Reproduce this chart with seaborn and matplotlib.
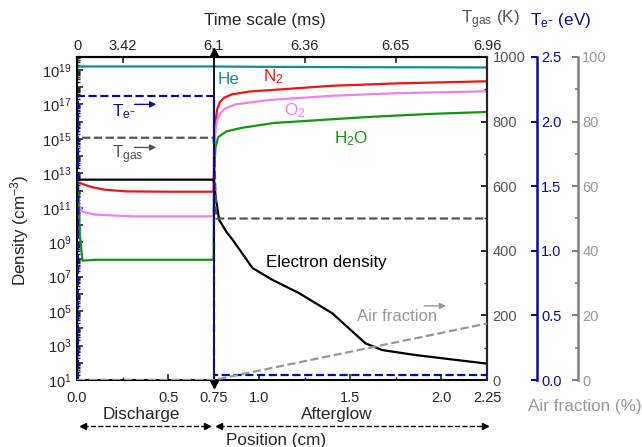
import numpy as np
import matplotlib
matplotlib.use("Agg")
import matplotlib.pyplot as plt
import matplotlib.ticker as mticker
import seaborn as sns

# ---- data (position in cm, log10 density in cm-3) ----
he_pos = [0.0, 0.75, 1.0, 1.5, 2.0, 2.25]
he_log = [19.2, 19.2, 19.18, 19.16, 19.15, 19.14]

n2_pos = [0.005, 0.03, 0.08, 0.15, 0.27, 0.5, 0.745, 0.75, 0.752, 0.756, 0.762, 0.77, 0.785, 0.81, 0.85, 0.95, 1.05, 1.4, 1.76, 2.25]
n2_log = [12.47, 12.38, 12.2, 12.05, 11.95, 11.93, 11.93, 11.93, 14.0, 15.3, 16.2, 16.75, 17.15, 17.4, 17.58, 17.75, 17.82, 18.08, 18.22, 18.34]

o2_pos = [0.005, 0.03, 0.1, 0.3, 0.5, 0.745, 0.75, 0.752, 0.755, 0.76, 0.77, 0.785, 0.81, 0.87, 1.05, 1.4, 1.76, 2.25]
o2_log = [11.3, 10.77, 10.6, 10.5, 10.5, 10.5, 10.5, 13.0, 14.6, 15.5, 16.1, 16.45, 16.75, 17.0, 17.25, 17.5, 17.65, 17.76]

h2o_pos = [0.005, 0.015, 0.03, 0.1, 0.5, 0.745, 0.75, 0.752, 0.755, 0.76, 0.775, 0.82, 0.9, 1.08, 1.6, 1.95, 2.25]
h2o_log = [12.5, 9.5, 7.93, 7.98, 7.98, 7.98, 7.98, 11.5, 13.6, 14.5, 15.1, 15.43, 15.63, 15.92, 16.27, 16.45, 16.56]

ne_pos = [0.0, 0.75, 0.755, 0.763, 0.78, 0.82, 0.854, 0.91, 0.963, 1.073, 1.219, 1.40, 1.583, 1.674, 1.856, 2.25]
ne_log = [12.63, 12.63, 12.2, 11.47, 10.3, 9.6, 9.14, 8.3, 7.5, 6.81, 6.04, 4.88, 3.13, 2.74, 2.45, 1.95]

tgas_pos = [0.0, 0.0, 0.75, 0.765, 2.25]
tgas_k = [0, 750, 750, 500, 500]

te_pos = [0.003, 0.003, 0.752, 0.752, 2.25]
te_ev = [0.0, 2.2, 2.2, 0.04, 0.04]

air_pos = [0.0, 0.75, 2.25]
air_pct = [0.0, 0.0, 17.5]

bottom_ticks = [0, 0.5, 0.75, 1.0, 1.5, 2.0, 2.25]
bottom_labels = ["0.0", "0.5", "0.75", "1.0", "1.5", "2.0", "2.25"]
top_ticks = [0, 0.25, 0.75, 1.25, 1.75, 2.25]
top_labels = ["0", "3.42", "6.1", "6.36", "6.65", "6.96"]

# colours
c_he = "#0f8f8f"
c_n2 = "#f01414"
c_o2 = "#f080f0"
c_h2o = "#139613"
c_tgas = "#555555"
c_te = "#0a0aa5"
c_air = "#999999"

sns.set_style("ticks")
plt.rcParams['font.family'] = ['Liberation Sans', 'DejaVu Sans']
plt.rcParams['mathtext.fontset'] = 'custom'
plt.rcParams['mathtext.rm'] = 'Liberation Sans'
plt.rcParams['mathtext.it'] = 'Liberation Sans:italic'
plt.rcParams['mathtext.bf'] = 'Liberation Sans:bold'

W, H = 642, 447
fig = plt.figure(figsize=(W / 100, H / 100), dpi=100)
ax = fig.add_axes([77 / W, 1 - 380 / H, 410 / W, 323 / H])
ax.set_yscale("log")

lw = 1.6
tfs = 10.5   # tick labels
fs = 12.3    # text labels

def line(a, x, y, color, ls="-"):
    sns.lineplot(x=x, y=y, ax=a, color=color, lw=lw, linestyle=ls,
                 estimator=None, sort=False, legend=False)

line(ax, he_pos, 10 ** np.array(he_log), c_he)
line(ax, n2_pos, 10 ** np.array(n2_log), c_n2)
line(ax, o2_pos, 10 ** np.array(o2_log), c_o2)
line(ax, h2o_pos, 10 ** np.array(h2o_log), c_h2o)
line(ax, ne_pos, 10 ** np.array(ne_log), "black")

ax.set_xlim(0, 2.25)
ax.set_ylim(10, 10 ** 19.75)
ax.set_xlabel("")
ax.set_ylabel("")

ax.yaxis.set_major_locator(mticker.FixedLocator([10.0 ** k for k in range(1, 20)]))
ax.yaxis.set_major_formatter(mticker.FuncFormatter(
    lambda v, p: "$10^{%d}$" % round(np.log10(v)) if round(np.log10(v)) % 2 == 1 else ""))
ax.yaxis.set_minor_locator(mticker.LogLocator(base=10, subs=np.arange(2, 10), numticks=200))
ax.yaxis.set_minor_formatter(mticker.NullFormatter())
ax.set_xticks(bottom_ticks, labels=bottom_labels)
ax.set_xticks([0.25, 1.25, 1.75], minor=True)
ax.tick_params(axis="both", which="major", direction="in", length=4, width=1.2, labelsize=tfs)
ax.tick_params(axis="both", which="minor", direction="in", length=2.5, width=1.0)
ax.tick_params(axis="y", which="major", pad=4)
ax.tick_params(axis="x", which="major", pad=8)
for s in ax.spines.values():
    s.set_linewidth(1.5)
    s.set_color("black")

# top axis: time scale
sec = ax.secondary_xaxis("top")
sec.set_xticks(top_ticks, labels=top_labels)
sec.tick_params(direction="in", length=4, width=1.2, labelsize=tfs, pad=3)
sec.spines["top"].set_linewidth(1.5)

# T_gas axis
ax_tg = ax.twinx()
line(ax_tg, tgas_pos, tgas_k, c_tgas, "--")
ax_tg.set_ylim(0, 1000)
ax_tg.set_yticks(range(0, 1001, 200))
ax_tg.set_yticks(range(100, 1000, 200), minor=True)
ax_tg.tick_params(which="major", direction="in", length=4, width=1.2, labelsize=tfs,
                  labelcolor=c_tgas, color="black", pad=4)
ax_tg.tick_params(which="minor", direction="in", length=2.5, width=1.0)
ax_tg.set_ylabel("")
for k in ["left", "top", "bottom"]:
    ax_tg.spines[k].set_visible(False)
ax_tg.spines["right"].set_linewidth(1.5)

# T_e axis
ax_te = ax.twinx()
line(ax_te, te_pos, te_ev, c_te, "--")
ax_te.set_ylim(0, 2.5)
ax_te.set_yticks(np.arange(0, 2.51, 0.5))
ax_te.yaxis.set_major_formatter(mticker.FormatStrFormatter("%.1f"))
ax_te.spines["right"].set_position(("axes", 1 + 50 / 410))
ax_te.spines["right"].set_color(c_te)
ax_te.spines["right"].set_linewidth(1.8)
ax_te.tick_params(direction="in", length=4, width=1.5, labelsize=tfs,
                  labelcolor=c_te, color=c_te, pad=3)
ax_te.set_ylabel("")
for k in ["left", "top", "bottom"]:
    ax_te.spines[k].set_visible(False)

# Air fraction axis
ax_air = ax.twinx()
line(ax_air, air_pos, air_pct, c_air, "--")
ax_air.set_ylim(0, 100)
ax_air.set_yticks(range(0, 101, 20))
ax_air.set_yticks(range(10, 100, 20), minor=True)
ax_air.spines["right"].set_position(("axes", 1 + 91 / 410))
ax_air.spines["right"].set_color("#808080")
ax_air.spines["right"].set_linewidth(1.8)
ax_air.tick_params(which="major", direction="in", length=4, width=1.5, labelsize=tfs,
                   labelcolor=c_air, color="#808080", pad=3)
ax_air.tick_params(which="minor", direction="in", length=2.5, width=1.2, color="#808080")
ax_air.set_ylabel("")
for k in ["left", "top", "bottom"]:
    ax_air.spines[k].set_visible(False)

# divider between discharge and afterglow
ax.axvline(0.75, color="black", lw=1.3, zorder=5)
tr = ax.get_xaxis_transform()
ax.plot([0.75], [1.015], marker="^", color="black", ms=6, transform=tr, clip_on=False)
ax.plot([0.75], [-0.012], marker="v", color="black", ms=6, transform=tr, clip_on=False)

# in-plot labels
ax.text(0.77, 10 ** 18.44, "He", color=c_he, fontsize=fs, va="center")
ax.text(1.02, 10 ** 18.6, r"N$_\mathregular{2}$", color=c_n2, fontsize=fs, va="center")
ax.text(1.137, 10 ** 16.64, r"O$_\mathregular{2}$", color=c_o2, fontsize=fs, va="center")
ax.text(1.41, 10 ** 15.0, r"H$_\mathregular{2}$O", color=c_h2o, fontsize=fs, va="center")
ax.text(1.038, 10 ** 7.8, "Electron density", color="black", fontsize=12.2, va="center")
ax.text(1.536, 10 ** 4.66, "Air fraction", color=c_air, fontsize=12, va="center")
ax.text(0.19, 10 ** 16.55, r"T$_\mathregular{e^{-}}$", color=c_te, fontsize=fs, va="center")
ax.text(0.19, 10 ** 14.1, r"T$_\mathregular{gas}$", color=c_tgas, fontsize=fs, va="center")

def small_arrow(x0, x1, y, color):
    ax.annotate("", xy=(x1, y), xytext=(x0, y),
                arrowprops=dict(arrowstyle="-|>", color=color, lw=1.0, mutation_scale=9))

small_arrow(0.30, 0.45, 10 ** 17.0, c_te)
small_arrow(0.30, 0.45, 10 ** 14.5, c_tgas)
small_arrow(1.89, 2.04, 10 ** 5.3, c_air)

# discharge / afterglow markers under the axis
def span_arrow(x0, x1, yf):
    ax.plot([x0, x1], [yf, yf], ls="--", color="black", lw=1.0, transform=tr, clip_on=False)
    ax.plot([x0], [yf], marker="<", color="black", ms=4.5, transform=tr, clip_on=False)
    ax.plot([x1], [yf], marker=">", color="black", ms=4.5, transform=tr, clip_on=False)

span_arrow(0.035, 0.715, -0.142)
span_arrow(0.78, 2.24, -0.142)
ax.text(0.355, -0.108, "Discharge", transform=tr, ha="center", va="center", fontsize=fs)
ax.text(1.426, -0.108, "Afterglow", transform=tr, ha="center", va="center", fontsize=fs)
ax.text(1.095, -0.188, "Position (cm)", transform=tr, ha="center", va="center", fontsize=fs)

fig.text(20 / W, 1 - 230 / H, "Density (cm$^{-3}$)", rotation=90, ha="center", va="center", fontsize=fs)
fig.text(265 / W, 1 - 20 / H, "Time scale (ms)", ha="center", va="center", fontsize=fs)
fig.text(490 / W, 1 - 20 / H, r"T$_\mathregular{gas}$ (K)", ha="center", va="center", fontsize=fs, color=c_tgas)
fig.text(561 / W, 1 - 20 / H, r"T$_\mathregular{e^{-}}$ (eV)", ha="center", va="center", fontsize=fs, color=c_te)
fig.text(585 / W, 1 - 406 / H, "Air fraction (%)", ha="center", va="center", fontsize=fs, color=c_air)

fig.savefig("out.png", dpi=100)
